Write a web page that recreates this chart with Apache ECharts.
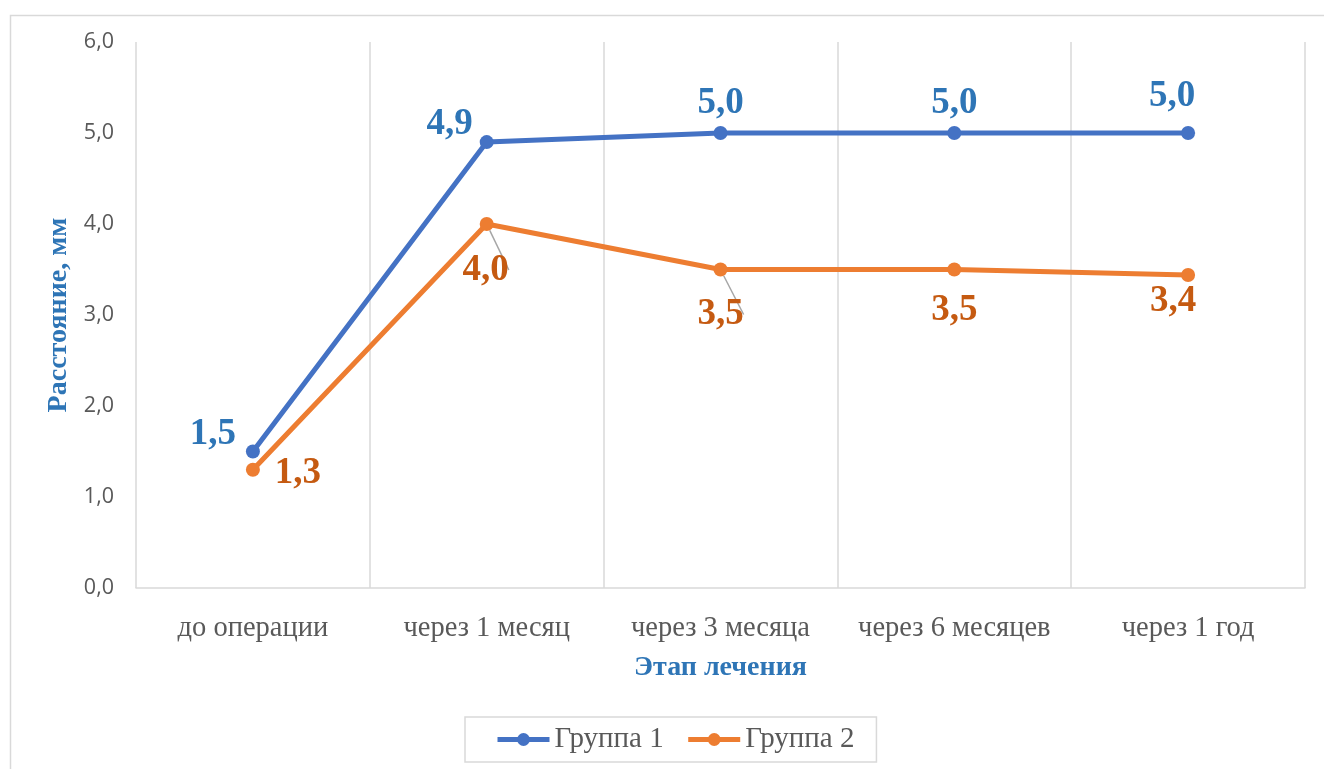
<!DOCTYPE html>
<html>
<head>
<meta charset="utf-8">
<script src="https://cdn.jsdelivr.net/npm/echarts@6/dist/echarts.min.js"></script>
<style>
  html, body { margin: 0; padding: 0; background: #ffffff; }
  #chart { width: 1324px; height: 769px; }
</style>
</head>
<body>
<div id="chart"></div>
<script>
// Treatment stages (x axis)
const stages = ['до операции', 'через 1 месяц', 'через 3 месяца', 'через 6 месяцев', 'через 1 год'];
// Distance, mm
const group1 = [1.5, 4.9, 5.0, 5.0, 5.0];
const group2 = [1.3, 4.0, 3.5, 3.5, 3.44];
const seriesNames = ['Группа 1', 'Группа 2'];
// Y axis range
const yMin = 0, yMax = 6, yStep = 1;

// Label offsets from each point (px) and which labels get a leader line
const offsets1 = [[-40, -17], [-37, -18], [0, -30], [0, -30], [-16, -37]];
const offsets2 = [[45, 4], [-1, 46], [0, 45], [0, 41], [-15, 26]];
const leaders1 = [false, false, false, false, true];
const leaders2 = [false, true, true, false, false];

const fmt = v => v.toFixed(1).replace('.', ',');
const serif = '"Liberation Serif", "Times New Roman", serif';

function buildData(values, offsets, leaders) {
  return values.map((v, i) => ({
    value: v,
    label: { offset: offsets[i] },
    labelLine: { show: leaders[i] }
  }));
}

function makeSeries(name, values, offsets, leaders, lineColor, labelColor) {
  return {
    name: name,
    type: 'line',
    data: buildData(values, offsets, leaders),
    symbol: 'circle',
    symbolSize: 14,
    lineStyle: { color: lineColor, width: 5 },
    itemStyle: { color: lineColor },
    label: {
      show: true,
      position: 'inside',
      formatter: p => fmt(p.value),
      color: labelColor,
      fontFamily: serif,
      fontWeight: 'bold',
      fontSize: 37
    },
    labelLine: { show: false, lineStyle: { color: '#a6a6a6', width: 1.5 } },
    emphasis: { disabled: true },
    animation: false
  };
}

const chart = echarts.init(document.getElementById('chart'), null, { renderer: 'canvas' });
chart.setOption({
  backgroundColor: '#ffffff',
  animation: false,
  graphic: [{
    type: 'rect',
    left: 8, top: 13,
    shape: { width: 1400, height: 800 },
    style: { fill: 'none', stroke: '#d9d9d9', lineWidth: 1.5 },
    z: -1
  }],
  grid: { left: 136, right: 19, top: 42, bottom: 181 },
  legend: {
    bottom: 7,
    left: 465,
    data: seriesNames,
    itemWidth: 52,
    itemHeight: 16,
    itemGap: 22,
    padding: [8, 22, 8, 30],
    borderColor: '#d9d9d9',
    borderWidth: 1.5,
    lineStyle: { width: 5 },
    textStyle: { color: '#595959', fontFamily: serif, fontSize: 29 }
  },
  xAxis: {
    type: 'category',
    data: stages,
    boundaryGap: true,
    name: 'Этап лечения',
    nameLocation: 'middle',
    nameGap: 66,
    nameTextStyle: { color: '#2e75b6', fontFamily: serif, fontWeight: 'bold', fontSize: 28 },
    axisLine: { lineStyle: { color: '#d9d9d9', width: 1.5 } },
    axisTick: { show: false },
    axisLabel: { interval: 0, color: '#595959', fontFamily: serif, fontSize: 28.5, margin: 26 },
    splitLine: { show: true, interval: 0, lineStyle: { color: '#d9d9d9', width: 1.5 } }
  },
  yAxis: {
    type: 'value',
    min: yMin, max: yMax, interval: yStep,
    name: 'Расстояние, мм',
    nameLocation: 'middle',
    nameGap: 62,
    nameTextStyle: { color: '#2e75b6', fontFamily: serif, fontWeight: 'bold', fontSize: 28 },
    axisLine: { show: false },
    axisTick: { show: false },
    splitLine: { show: false },
    axisLabel: { color: '#595959', fontFamily: '"Open Sans", sans-serif', fontSize: 21.5, margin: 22, formatter: v => fmt(v) }
  },
  series: [
    makeSeries(seriesNames[0], group1, offsets1, leaders1, '#4472c4', '#2e75b6'),
    makeSeries(seriesNames[1], group2, offsets2, leaders2, '#ed7d31', '#c55a11')
  ]
});
</script>
</body>
</html>
